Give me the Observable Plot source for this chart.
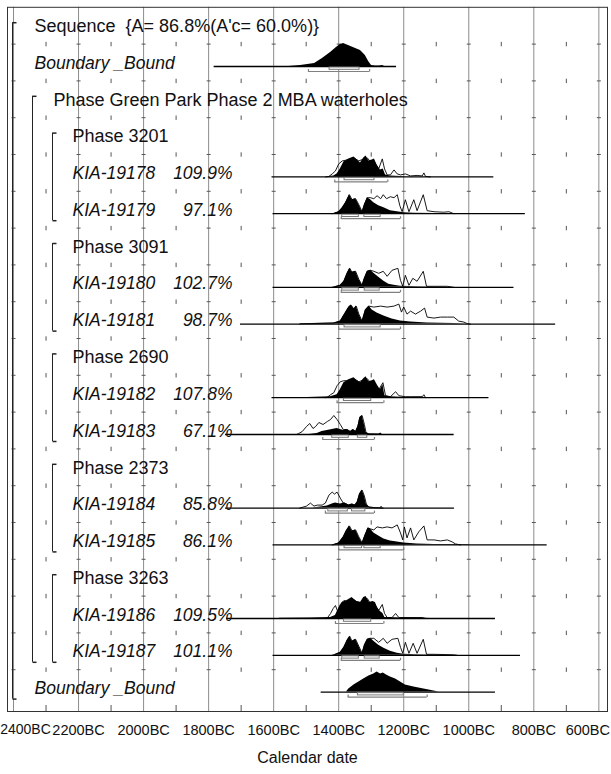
<!DOCTYPE html>
<html><head><meta charset="utf-8">
<script src="https://cdn.jsdelivr.net/npm/d3@7"></script>
<script src="https://cdn.jsdelivr.net/npm/@observablehq/plot@0.6"></script>
<style>body{margin:0;background:#fff;} svg{display:block;}</style>
</head><body><div id="chart"></div>
<script>
// ---------- DATA (years BC, relative probability) ----------
const rowLabels = ["Sequence  {A= 86.8%(A'c= 60.0%)}", "Boundary _Bound", "Phase Green Park Phase 2 MBA waterholes",
  "Phase 3201", "KIA-19178", "KIA-19179", "Phase 3091", "KIA-19180", "KIA-19181",
  "Phase 2690", "KIA-19182", "KIA-19183", "Phase 2373", "KIA-19184", "KIA-19185",
  "Phase 3263", "KIA-19186", "KIA-19187", "Boundary _Bound"];
const rowAgreement = ["", "", "", "", "109.9%", "97.1%", "", "102.7%", "98.7%", "", "107.8%", "67.1%", "", "85.8%", "86.1%", "", "109.5%", "101.1%", ""];
const rowItalic = [false, true, false, false, true, true, false, true, true, false, true, true, false, true, true, false, true, true, true];
const rowLevel = [0, 0, 1, 2, 2, 2, 2, 2, 2, 2, 2, 2, 2, 2, 2, 2, 2, 2, 0];
// groups: [first row, last row, nesting depth]
const groupRows = [[0, 18, 0], [2, 17, 1], [3, 5, 2], [6, 8, 2], [9, 11, 2], [12, 14, 2], [15, 17, 2]];

const majorYears = [2400, 2200, 2000, 1800, 1600, 1400, 1200, 1000, 800, 600];
const minorYears = [2300, 2100, 1900, 1700, 1500, 1300, 1100, 900, 700];

const post_bound1 = [[1554,0],[1517,1],[1474,3],[1450,8],[1425,14],[1407,19],[1395,22],[1385,23],[1370,21],[1348,18],[1333,16],[1318,11],[1308,5],[1299,1],[1287,0.5],[1275,0.5],[1265,1],[1259,0]];
const post_19178 = [[1440,0],[1430,0.3],[1415,1],[1405,3],[1395,8],[1384,15],[1369,18],[1353,20],[1343,17],[1333,14],[1323,19],[1316,21],[1307,16],[1297,17],[1290,18],[1282,12],[1272,7],[1263,8],[1256,2],[1241,1],[1210,0.5],[1190,0]];
const prior_19178 = [[1440,0],[1430,0.5],[1420,3],[1410,6],[1400,13],[1389,16],[1374,17],[1353,19],[1338,16],[1323,18],[1312,19],[1302,15],[1292,16],[1277,8],[1266,18],[1259,8],[1251,2],[1241,2],[1230,7],[1220,3],[1210,2],[1195,3],[1179,1],[1159,1.5],[1143,1],[1138,4],[1133,0.5],[1118,0]];
const post_19179 = [[1420,0],[1415,0.3],[1400,2],[1389,6],[1379,11],[1367,19],[1359,14],[1348,15],[1338,9],[1328,2],[1321,9],[1312,16],[1302,14],[1292,11],[1277,8],[1261,6],[1241,3],[1220,2],[1200,1],[1169,0.5],[1107,0.3],[1046,0]];
const prior_19179 = [[1420,0],[1415,0.3],[1400,2],[1389,6],[1379,11],[1367,19],[1359,14],[1348,15],[1338,9],[1328,2],[1321,9],[1312,16],[1302,16],[1292,15],[1282,18],[1271,15],[1263,19],[1253,15],[1241,17],[1230,16],[1220,19],[1212,8],[1205,2],[1195,14],[1184,2],[1169,14],[1159,3],[1140,19],[1128,3],[1107,2],[1077,1.5],[1061,2],[1046,0]];
const post_19180 = [[1420,0],[1415,0.3],[1395,2],[1384,6],[1374,14],[1366,19],[1359,15],[1348,16],[1338,8],[1328,2],[1321,9],[1312,16],[1302,17],[1292,14],[1277,10],[1261,6],[1246,3],[1230,2],[1210,1],[1159,0.5],[1046,0]];
const prior_19180 = [[1420,0],[1415,0.3],[1395,2],[1384,6],[1374,14],[1366,19],[1359,15],[1348,16],[1338,8],[1328,2],[1321,9],[1312,16],[1302,17],[1292,16],[1277,14],[1263,16],[1251,11],[1236,17],[1218,19],[1210,7],[1203,1],[1195,12],[1184,2],[1172,9],[1159,6],[1140,16],[1130,1],[1107,1],[1066,1],[1046,0]];
const post_19181 = [[1520,0],[1518,0.3],[1415,1],[1395,3],[1382,10],[1369,17],[1362,19],[1353,15],[1346,18],[1338,10],[1328,3],[1318,14],[1307,18],[1297,14],[1282,11],[1261,8],[1236,5],[1210,3],[1179,2],[1128,1],[1046,0.5],[1005,0]];
const prior_19181 = [[1520,0],[1518,0.3],[1415,1],[1395,3],[1382,10],[1369,17],[1362,19],[1353,15],[1346,18],[1338,10],[1328,3],[1318,14],[1307,18],[1292,17],[1271,18],[1251,17],[1230,18],[1215,20],[1207,12],[1200,17],[1190,10],[1179,13],[1164,10],[1148,13],[1136,16],[1128,7],[1107,6],[1087,7],[1066,7],[1046,7],[1031,3],[1015,2],[1005,0.5],[995,0]];
const post_19182 = [[1500,0],[1497,0.3],[1425,1],[1405,3],[1395,8],[1384,15],[1369,18],[1353,20],[1343,17],[1333,15],[1323,19],[1316,21],[1307,16],[1297,17],[1290,18],[1280,12],[1272,8],[1264,13],[1258,2],[1241,1],[1210,0.5],[1190,0.5],[1143,0.5],[1128,0]];
const prior_19182 = [[1440,0],[1435,0.5],[1425,3],[1415,5],[1405,12],[1395,16],[1384,17],[1369,17],[1353,19],[1338,16],[1323,18],[1312,19],[1302,15],[1292,16],[1277,8],[1264,15],[1256,2],[1241,1],[1225,6],[1215,2],[1195,1],[1179,1],[1143,1],[1138,3],[1133,0]];
const post_19183 = [[1490,0],[1466,1],[1451,3],[1435,4],[1420,5],[1405,6],[1395,5],[1384,4],[1374,5],[1364,3],[1356,5],[1348,3],[1341,8],[1335,17],[1328,19],[1321,10],[1316,2],[1307,0.5],[1275,0.5],[1271,1.5],[1266,0]];
const prior_19183 = [[1530,0],[1523,1],[1512,3],[1499,8],[1489,11],[1479,6],[1471,8],[1461,12],[1448,10],[1435,13],[1425,15],[1415,19],[1405,15],[1395,10],[1386,5],[1374,5],[1364,3],[1356,5],[1348,3],[1341,8],[1335,17],[1328,19],[1321,10],[1316,2],[1307,0.5],[1266,0]];
const post_19184 = [[1480,0],[1456,1],[1435,2],[1420,4],[1410,5],[1395,4],[1382,5],[1369,3],[1359,4],[1350,3],[1343,6],[1336,14],[1328,18],[1321,12],[1315,4],[1307,1],[1292,0.5],[1272,0.5],[1268,1.5],[1263,0]];
const prior_19184 = [[1520,0],[1499,2],[1487,5],[1476,2],[1466,3],[1451,3],[1441,5],[1430,13],[1420,16],[1413,14],[1405,16],[1395,10],[1386,5],[1382,5],[1369,3],[1359,4],[1350,3],[1343,6],[1336,14],[1328,18],[1321,12],[1315,4],[1307,1],[1292,0.5],[1263,0]];
const post_19185 = [[1420,0],[1415,0.3],[1400,2],[1386,8],[1377,14],[1367,19],[1359,14],[1348,15],[1338,8],[1328,2],[1320,9],[1310,17],[1302,16],[1292,12],[1277,9],[1261,6],[1241,4],[1220,3],[1200,2],[1159,1],[1107,0.5],[1005,0.3],[995,0]];
const prior_19185 = [[1420,0],[1415,0.3],[1400,2],[1386,8],[1377,14],[1367,19],[1359,14],[1348,15],[1338,8],[1328,2],[1320,9],[1310,17],[1302,16],[1292,15],[1282,18],[1266,17],[1251,18],[1236,17],[1220,20],[1210,12],[1203,5],[1198,18],[1190,7],[1179,17],[1169,5],[1154,13],[1138,19],[1128,5],[1107,5],[1087,4],[1066,5],[1051,3],[1041,1],[1025,0]];
const post_19186 = [[1585,0],[1579,0.2],[1487,0.5],[1425,1],[1410,3],[1400,10],[1389,16],[1374,18],[1359,21],[1345,17],[1333,16],[1323,21],[1316,22],[1305,16],[1295,17],[1287,16],[1280,10],[1272,7],[1264,5],[1258,1],[1210,0.5],[1138,0.3],[1118,0]];
const prior_19186 = [[1440,0],[1435,0.5],[1425,5],[1417,10],[1410,13],[1403,7],[1395,14],[1384,18],[1374,17],[1359,20],[1345,17],[1333,16],[1323,19],[1312,20],[1302,15],[1292,16],[1277,8],[1266,14],[1259,5],[1251,1],[1236,1],[1225,5],[1215,1],[1190,1],[1143,1],[1133,0]];
const post_19187 = [[1420,0],[1415,0.3],[1395,3],[1384,8],[1374,15],[1366,19],[1359,14],[1348,16],[1338,9],[1328,2],[1321,10],[1312,16],[1302,17],[1292,14],[1277,10],[1261,7],[1241,4],[1220,2],[1200,1],[1159,0.5],[1046,0]];
const prior_19187 = [[1420,0],[1415,0.3],[1395,3],[1384,8],[1374,15],[1366,19],[1359,14],[1348,16],[1338,9],[1328,2],[1321,10],[1312,16],[1302,17],[1292,17],[1277,13],[1263,17],[1251,12],[1236,16],[1218,17],[1210,8],[1203,2],[1195,13],[1184,2],[1171,12],[1159,2],[1140,16],[1130,1],[1107,1],[1046,0.5],[1036,0]];
const post_bound2 = [[1376,0],[1369,3],[1353,7],[1338,10],[1323,13],[1307,16],[1292,18],[1282,20],[1271,18],[1263,19],[1253,17],[1241,15],[1225,13],[1210,10],[1195,7],[1169,5],[1138,3],[1107,1],[1092,0]];

const distRow = [1, 4, 5, 7, 8, 10, 11, 13, 14, 16, 17, 18];
const posteriors = [post_bound1, post_19178, post_19179, post_19180, post_19181, post_19182, post_19183, post_19184, post_19185, post_19186, post_19187, post_bound2];
const priors = [null, prior_19178, prior_19179, prior_19180, prior_19181, prior_19182, prior_19183, prior_19184, prior_19185, prior_19186, prior_19187, null];
const lineFrom = [1783, 1605, 1602, 1602, 1702, 1605, 1748, 1748, 1602, 1745, 1602, 1454];
const lineTo = [1222, 923, 826, 861, 733, 938, 1045, 1044, 759, 918, 841, 918];
const range68 = [[[1428,1336]], [[1382,1290]], [[1389,1338],[1321,1271]], [[1389,1338],[1320,1274]], [[1382,1271]], [[1384,1300]],
  [[1420,1369],[1341,1312]], [[1432,1372],[1359,1318]], [[1382,1328],[1321,1271]], [[1384,1300]], [[1389,1338],[1320,1274]], [[1341,1200]]];
const range95 = [[1493,1305], [1412,1249], [1392,1210], [1392,1210], [1400,1210], [1405,1261], [1449,1290], [1441,1290], [1400,1200], [1410,1261], [1392,1210], [1371,1128]];

// ---------- LAYOUT ----------
const ROW_PX = 36.8, PX = 1 / ROW_PX, BASE = 0.609, YMAX = 19.136;
const XMIN = -2418.5, XMAX = -573.4;

const rows = rowLabels.map((label, i) => ({i, label, pct: rowAgreement[i], italic: rowItalic[i], level: rowLevel[i], base: i + BASE}));
const areaData = posteriors.flatMap((p, k) => p.map(([yr, h]) => ({id: k, x: -yr, base: distRow[k] + BASE, h})));
const priorData = priors.flatMap((p, k) => p ? p.map(([yr, h]) => ({id: k, x: -yr, base: distRow[k] + BASE, h})) : []);
const lines = distRow.map((r, k) => ({base: r + BASE, x1: -lineFrom[k], x2: -lineTo[k]}));
const r68 = range68.flatMap((rs, k) => rs.map(([a, b]) => ({base: distRow[k] + BASE, x1: -a, x2: -b})));
const r95 = range95.map(([a, b], k) => ({base: distRow[k] + BASE, x1: -a, x2: -b}));
const r95ends = r95.flatMap(d => [{base: d.base, x: d.x1}, {base: d.base, x: d.x2}]);
const boundaries = d3.range(1, 19);
const minorGrid = boundaries.flatMap(b => minorYears.map(y => ({x: -y, y: b})));
const majorGrid = boundaries.flatMap(b => majorYears.map(y => ({x: -y, y: b})));
const groups = groupRows.map(([a, b, d]) => ({top: a + BASE, bottom: b + BASE, depth: d}));

const vBar = {draw(ctx) { ctx.moveTo(0, -2.2); ctx.lineTo(0, 2.2); }};
const hBar = {draw(ctx) { ctx.moveTo(-2, 0); ctx.lineTo(2, 0); }};
const endTick = {draw(ctx) { ctx.moveTo(0, 0); ctx.lineTo(0, -2.5); }};
const stub = {draw(ctx) { ctx.moveTo(0, 0); ctx.lineTo(4, 0); }};

const FONT = "'Liberation Sans', Arial, Helvetica, sans-serif";
const marks = [
  Plot.ruleX(majorYears, {x: d => -d, stroke: "#8c8c8c", strokeWidth: 1}),
  Plot.ruleX(minorYears, {x: d => -d, insetTop: (711 - 6.8) - 6, stroke: "#555"}),
  Plot.dot(minorGrid, {x: "x", y: "y", symbol: vBar, fill: "none", stroke: "#555", strokeWidth: 1}),
  Plot.dot(majorGrid, {x: "x", y: "y", symbol: hBar, fill: "none", stroke: "#555", strokeWidth: 1}),
  Plot.ruleY(lines, {y: "base", x1: "x1", x2: "x2", stroke: "#000", strokeWidth: 1.3}),
  Plot.areaY(areaData, {x: "x", y1: "base", y2: d => d.base - d.h * PX, z: "id", fill: "#000", curve: "linear"}),
  Plot.line(priorData, {x: "x", y: d => d.base - d.h * PX, z: "id", stroke: "#000", strokeWidth: 0.9, curve: "linear"}),
  Plot.rect(r68, {x1: "x1", x2: "x2", y1: d => d.base + 1 * PX, y2: d => d.base + 3.3 * PX, fill: "#fff", stroke: "#777", strokeWidth: 1}),
  Plot.ruleY(r95, {y: d => d.base + 5 * PX, x1: "x1", x2: "x2", stroke: "#808080", strokeWidth: 1.2}),
  Plot.dot(r95ends, {x: "x", y: d => d.base + 5 * PX, symbol: endTick, fill: "none", stroke: "#808080", strokeWidth: 1.2}),
];
// brackets
for (const depth of [0, 1, 2]) {
  const g = groups.filter(d => d.depth === depth);
  const dx = 5 + 20 * depth;
  marks.push(
    Plot.ruleX(g, {x: XMIN, y1: d => d.top - 7 * PX, y2: d => d.bottom + 7 * PX, dx, stroke: "#222", strokeWidth: 1}),
    Plot.dot(g, {x: XMIN, y: d => d.top - 7 * PX, dx, symbol: stub, fill: "none", stroke: "#222"}),
    Plot.dot(g, {x: XMIN, y: d => d.bottom + 7 * PX, dx, symbol: stub, fill: "none", stroke: "#222"})
  );
}
// labels
for (const level of [0, 1, 2]) for (const italic of [false, true]) {
  const rr = rows.filter(d => d.level === level && d.italic === italic);
  if (!rr.length) continue;
  marks.push(Plot.text(rr, {x: XMIN, y: "base", text: "label", dx: 27 + 19 * level, dy: -3.5, textAnchor: "start",
    fontSize: italic ? 17.5 : 18, fontStyle: italic ? "italic" : "normal", fill: "#111", fontFamily: FONT}));
}
marks.push(Plot.text(rows.filter(d => d.pct), {x: XMIN, y: "base", text: "pct", dx: 225, dy: -3.5, textAnchor: "end",
  fontSize: 17.5, fontStyle: "italic", fill: "#111", fontFamily: FONT}));
const axisOpts = {tickSize: 0, tickPadding: 13, tickFormat: d => `${-d}BC`, fontSize: 14.5, label: null, fill: "#111"};
marks.push(
  Plot.frame({stroke: "#333", strokeWidth: 1}),
  Plot.axisX(majorYears.slice(1, -1).map(d => -d), axisOpts),
  Plot.axisX([-majorYears[0]], {...axisOpts, fontSize: 14, dx: 12}),
  Plot.axisX([-majorYears[majorYears.length - 1]], {...axisOpts, dx: -11}),
  Plot.text(["Calendar date"], {frameAnchor: "bottom", dy: 51, fontSize: 16, fill: "#111"})
);

const chart = Plot.plot({
  width: 611, height: 774,
  marginTop: 6.8, marginBottom: 63, marginLeft: 7, marginRight: 4,
  style: {fontFamily: FONT, background: "#fff", overflow: "visible"},
  x: {domain: [XMIN, XMAX], axis: null},
  y: {domain: [0, YMAX], range: [6.8, 711], axis: null},
  marks
});
document.getElementById("chart").appendChild(chart);
</script></body></html>
